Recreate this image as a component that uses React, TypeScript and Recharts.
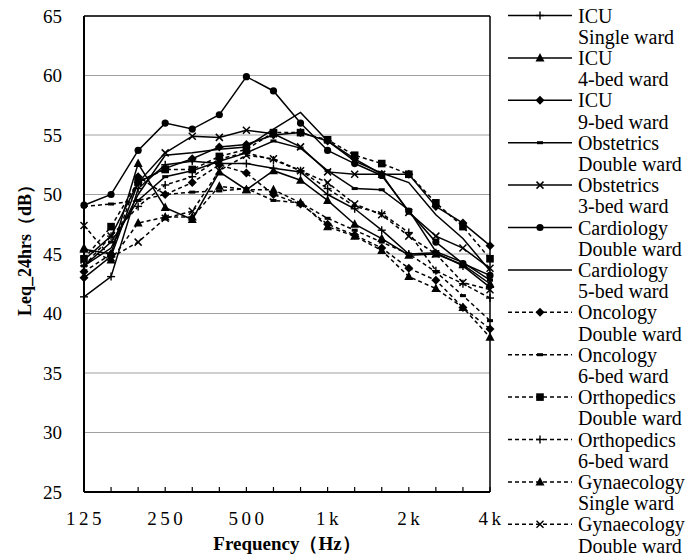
import React from 'react';
import { LineChart, Line, XAxis, YAxis, CartesianGrid, ReferenceLine, Legend } from 'recharts';

const FONT = "'Liberation Serif', 'Times New Roman', Times, serif";

const freqs = ['125', '160', '200', '250', '315', '400', '500', '630', '800', '1k', '1.25k', '1.6k', '2k', '2.5k', '3.15k', '4k'];
const shownFreqs = ['125', '250', '500', '1k', '2k', '4k'];
const yTicks = [25, 30, 35, 40, 45, 50, 55, 60, 65];

const icuSingle = [41.4, 43.1, 50.5, 52.5, 52.8, 52.6, 52.6, 52.2, 51.9, 50.0, 48.8, 47.0, 45.0, 45.1, 44.0, 42.2];
const icu4Bed = [45.4, 45.0, 52.6, 48.9, 47.9, 51.9, 50.4, 52.0, 51.2, 49.5, 47.5, 46.3, 44.9, 45.0, 44.1, 42.5];
const icu9Bed = [43.0, 44.8, 51.0, 52.2, 53.0, 54.0, 54.2, 55.0, 55.2, 54.5, 53.0, 51.7, 51.7, 49.0, 47.6, 45.7];
const obsDouble = [44.0, 46.0, 49.5, 51.5, 52.0, 52.8, 53.5, 54.5, 53.9, 52.0, 50.5, 50.4, 48.7, 45.2, 44.3, 42.8];
const obs3Bed = [44.5, 46.5, 51.0, 53.5, 54.9, 54.8, 55.4, 55.1, 54.0, 51.9, 51.7, 51.7, 48.5, 46.5, 45.5, 43.8];
const cardDouble = [49.1, 50.0, 53.7, 56.0, 55.5, 56.7, 59.9, 58.7, 56.0, 53.7, 52.6, 51.6, 48.6, 46.0, 44.2, 43.2];
const card5Bed = [44.0, 45.5, 50.0, 53.3, 53.5, 53.8, 54.0, 55.5, 56.9, 54.5, 52.8, 51.8, 51.0, 48.3, 46.3, 43.6];
const oncDouble = [43.5, 45.0, 51.5, 50.0, 51.0, 52.5, 51.8, 50.0, 49.2, 47.5, 46.6, 45.5, 43.8, 42.8, 40.5, 38.7];
const onc6Bed = [49.0, 49.2, 49.5, 50.0, 50.2, 50.3, 50.5, 49.5, 49.3, 48.0, 47.0, 46.0, 45.0, 43.5, 41.5, 39.4];
const orthDouble = [44.6, 47.3, 51.1, 52.1, 52.1, 53.2, 53.8, 55.2, 55.2, 54.6, 53.3, 52.6, 51.7, 49.3, 47.3, 44.6];
const orth6Bed = [44.0, 46.5, 49.0, 50.8, 51.5, 53.0, 53.5, 52.9, 52.0, 50.5, 49.0, 48.4, 46.8, 43.6, 42.5, 41.3];
const gynSingle = [45.5, 44.5, 47.6, 48.1, 48.1, 50.7, 50.4, 50.4, 49.3, 47.3, 46.5, 45.3, 43.1, 42.1, 40.5, 38.0];
const gynDouble = [47.4, 44.7, 46.0, 48.0, 48.6, 52.0, 53.3, 53.0, 52.0, 51.0, 49.2, 48.3, 46.5, 45.0, 42.6, 42.0];

const series = [
  { key: 's0', values: icuSingle, line1: 'ICU', line2: 'Single ward', dashed: false, marker: 'plus' },
  { key: 's1', values: icu4Bed, line1: 'ICU', line2: '4-bed ward', dashed: false, marker: 'triangle' },
  { key: 's2', values: icu9Bed, line1: 'ICU', line2: '9-bed ward', dashed: false, marker: 'diamond' },
  { key: 's3', values: obsDouble, line1: 'Obstetrics', line2: 'Double ward', dashed: false, marker: 'dash' },
  { key: 's4', values: obs3Bed, line1: 'Obstetrics', line2: '3-bed ward', dashed: false, marker: 'x' },
  { key: 's5', values: cardDouble, line1: 'Cardiology', line2: 'Double ward', dashed: false, marker: 'circle' },
  { key: 's6', values: card5Bed, line1: 'Cardiology', line2: '5-bed ward', dashed: false, marker: 'none' },
  { key: 's7', values: oncDouble, line1: 'Oncology', line2: 'Double ward', dashed: true, marker: 'diamond' },
  { key: 's8', values: onc6Bed, line1: 'Oncology', line2: '6-bed ward', dashed: true, marker: 'dash' },
  { key: 's9', values: orthDouble, line1: 'Orthopedics', line2: 'Double ward', dashed: true, marker: 'square' },
  { key: 's10', values: orth6Bed, line1: 'Orthopedics', line2: '6-bed ward', dashed: true, marker: 'plus' },
  { key: 's11', values: gynSingle, line1: 'Gynaecology', line2: 'Single ward', dashed: true, marker: 'triangle' },
  { key: 's12', values: gynDouble, line1: 'Gynaecology', line2: 'Double ward', dashed: true, marker: 'x' },
];

const data = freqs.map((f, i) => {
  const row: Record<string, any> = { f };
  series.forEach((s) => { row[s.key] = s.values[i]; });
  return row;
});

const Marker = ({ type, cx, cy }: { type: string; cx: number; cy: number }) => {
  if (cx == null || cy == null || isNaN(cx) || isNaN(cy)) return <g />;
  switch (type) {
    case 'plus':
      return (
        <g stroke="#000" strokeWidth={1.4}>
          <line x1={cx} x2={cx} y1={cy - 4} y2={cy + 4} />
          <line x1={cx - 4} x2={cx + 4} y1={cy} y2={cy} />
        </g>
      );
    case 'triangle':
      return <polygon points={`${cx},${cy - 5} ${cx - 4.5},${cy + 3.5} ${cx + 4.5},${cy + 3.5}`} fill="#000" />;
    case 'diamond':
      return <polygon points={`${cx},${cy - 4.5} ${cx + 4.5},${cy} ${cx},${cy + 4.5} ${cx - 4.5},${cy}`} fill="#000" />;
    case 'dash':
      return <rect x={cx - 3} y={cy - 1.5} width={6} height={3} fill="#000" />;
    case 'x':
      return (
        <g stroke="#000" strokeWidth={1.5}>
          <line x1={cx - 3.5} x2={cx + 3.5} y1={cy - 3.5} y2={cy + 3.5} />
          <line x1={cx - 3.5} x2={cx + 3.5} y1={cy + 3.5} y2={cy - 3.5} />
        </g>
      );
    case 'circle':
      return <circle cx={cx} cy={cy} r={3.6} fill="#000" />;
    case 'square':
      return <rect x={cx - 3.8} y={cy - 3.8} width={7.6} height={7.6} fill="#000" />;
    default:
      return <g />;
  }
};

const XTick = (props: any) => {
  const { x, y, payload } = props;
  const show = shownFreqs.includes(payload.value);
  return (
    <g>
      <line x1={x} x2={x} y1={y} y2={y - 5} stroke="#000" strokeWidth={1.2} />
      {show && (
        <text x={x + 1.5} y={y + 26} textAnchor="middle" dominantBaseline="central" style={{ fontFamily: FONT, fontSize: 19 }} fill="#000" letterSpacing={3.5}>
          {payload.value}
        </text>
      )}
    </g>
  );
};

const XLabel = (props: any) => {
  const vb = props.viewBox || { x: 84, y: 492, width: 406, height: 64 };
  const cx = vb.x + vb.width / 2;
  return (
    <text x={cx} y={vb.y + 51} textAnchor="middle" dominantBaseline="central" style={{ fontFamily: FONT, fontSize: 19, fontWeight: 'bold' }} fill="#000">
      Frequency（Hz）
    </text>
  );
};

const YLabel = (props: any) => {
  const vb = props.viewBox || { x: 0, y: 16, width: 84, height: 476 };
  const cx = vb.x + 25;
  const cy = vb.y + vb.height / 2 - 8;
  return (
    <text x={cx} y={cy} transform={`rotate(-90 ${cx} ${cy})`} textAnchor="middle" dominantBaseline="central" style={{ fontFamily: FONT, fontSize: 18, fontWeight: 'bold' }} fill="#000">
      Leq_24hrs（dB）
    </text>
  );
};

const LegendContent = () => (
  <svg width={186} height={556} style={{ display: 'block' }}>
    {series.map((s, i) => {
      const y = 15.5 + i * 42.4;
      return (
        <g key={s.key}>
          <line x1={8} x2={72} y1={y} y2={y} stroke="#000" strokeWidth={1.5} strokeDasharray={s.dashed ? '4 3' : undefined} />
          <Marker type={s.marker} cx={40} cy={y} />
          <text x={78} y={y} dominantBaseline="central" style={{ fontFamily: FONT, fontSize: 20 }} fill="#000">{s.line1}</text>
          <text x={78} y={y + 21.2} dominantBaseline="central" style={{ fontFamily: FONT, fontSize: 20 }} fill="#000">{s.line2}</text>
        </g>
      );
    })}
  </svg>
);

export default function App() {
  return (
    <div style={{ position: 'absolute', left: 0, top: 0, background: '#fff', fontFamily: FONT }}>
      <LineChart width={686} height={556} data={data} margin={{ top: 16, right: 196, bottom: 0, left: 0 }} style={{ fontFamily: FONT }}>
        <CartesianGrid horizontal vertical={false} stroke="#a0a0a0" strokeWidth={1} />
        <XAxis
          dataKey="f"
          interval={0}
          tick={<XTick />}
          tickLine={false}
          tickSize={0}
          tickMargin={0}
          axisLine={{ stroke: '#000', strokeWidth: 2 }}
          height={64}
          label={<XLabel />}
        />
        <YAxis
          domain={[25, 65]}
          ticks={yTicks}
          interval={0}
          tickLine={false}
          tickSize={0}
          tickMargin={22}
          axisLine={{ stroke: '#000', strokeWidth: 2 }}
          width={84}
          tick={{ fontSize: 19, fill: '#000', style: { fontFamily: FONT } }}
          label={<YLabel />}
        />
        <ReferenceLine y={65} stroke="#000" strokeWidth={1.5} />
        <ReferenceLine x="4k" stroke="#000" strokeWidth={1.5} />
        {series.map((s) => (
          <Line
            key={s.key}
            dataKey={s.key}
            type="linear"
            stroke="#000"
            strokeWidth={1.5}
            strokeDasharray={s.dashed ? '4 3' : undefined}
            isAnimationActive={false}
            dot={(p: any) => <Marker key={`${s.key}-${p.index}`} type={s.marker} cx={p.cx} cy={p.cy} />}
            activeDot={false}
          />
        ))}
        <Legend
          layout="vertical"
          align="center"
          verticalAlign="middle"
          content={() => <LegendContent />}
          wrapperStyle={{ position: 'absolute', left: 500, top: 0, width: 186, height: 556 }}
        />
      </LineChart>
    </div>
  );
}
